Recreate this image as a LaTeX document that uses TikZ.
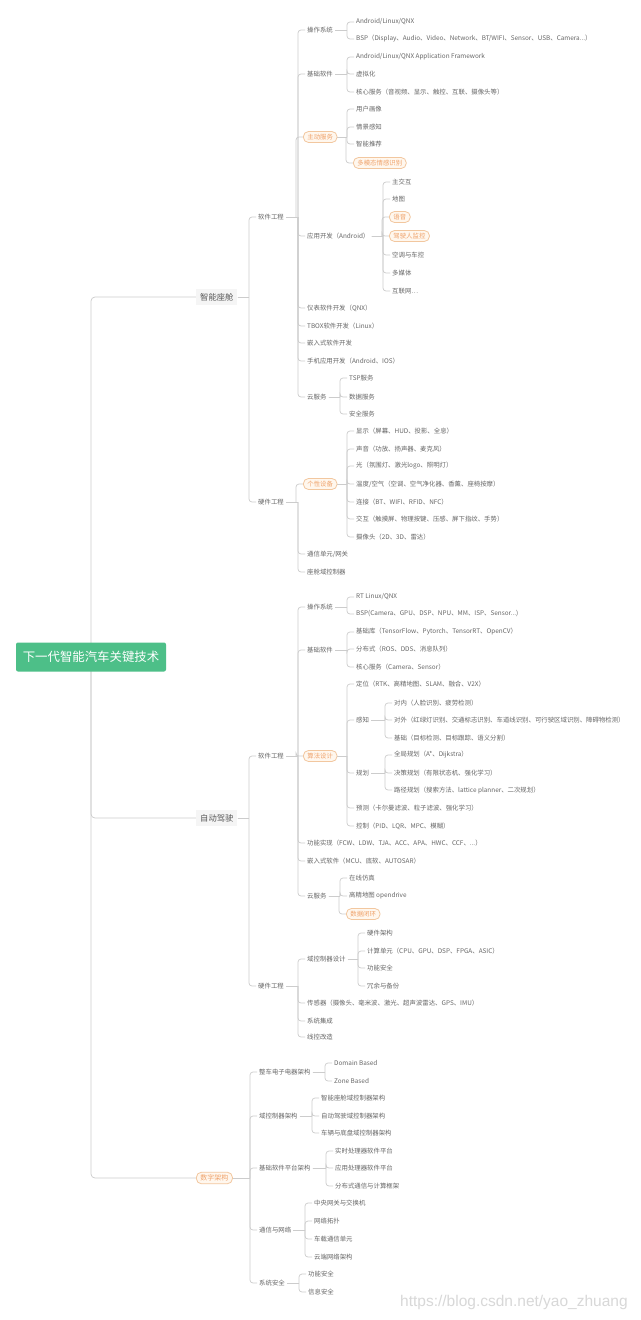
\documentclass[tikz,border=0pt]{standalone}
\usepackage{fontspec}
\setmainfont{Noto Sans CJK SC}
\newfontfamily\markfont{Liberation Sans}
\usetikzlibrary{calc,backgrounds}

\definecolor{rootgreen}{HTML}{4DBF88}
\definecolor{inkgray}{HTML}{666666}
\definecolor{linegray}{HTML}{CCCCCC}
\definecolor{pilledge}{HTML}{F2C79F}
\definecolor{pillfill}{HTML}{FFF7EE}
\definecolor{pillink}{HTML}{EFA26B}
\definecolor{markgray}{HTML}{D8D8D8}

\tikzset{
  rootbox/.style={fill=rootgreen, text=white, rounded corners=2pt,
    minimum width=150pt, minimum height=29pt, font=\fontsize{12.4}{14}\selectfont},
  topic/.style={anchor=west, fill=black!4, text=inkgray!85!black, inner sep=4pt,
    font=\fontsize{8.3}{10}\selectfont},
  leaf/.style={anchor=west, text=inkgray, inner sep=2pt, font=\fontsize{6.4}{7}\selectfont},
  pill/.style={leaf, draw=pilledge, fill=pillfill, text=pillink, rounded corners=5pt,
    inner xsep=4pt, inner ysep=2.5pt, line width=0.8pt},
  link/.style={draw=linegray, line width=0.7pt},
}

% parent -> child, through a bar 7pt left of the child
\newcommand{\mapbranch}[2]{%
  \coordinate (bar) at ($(#1.east -| #2.west)+(-7,0)$);
  \draw[link] (#1.east) -- (bar);
  \draw[link, rounded corners=3pt] (bar) |- (#2.west);}

\begin{document}
\begin{tikzpicture}[x=1pt, y=-1pt]
  \useasboundingbox (0,0) rectangle (640,1320);

    %----------------------------------------------------------
    % Root and main topics
    %----------------------------------------------------------
  \node[rootbox] (root) at (91,657) {下一代智能汽车关键技术};
  \node[topic] (cab) at (196,297) {智能座舱};
  \node[topic] (ad) at (196,818) {自动驾驶};
  \node[pill, font=\fontsize{7}{8}\selectfont] (arch) at (196,1178) {数字架构};

    %----------------------------------------------------------
    % Smart cabin
    %----------------------------------------------------------
  \node[leaf] (cabSw) at (256,217) {软件工程};
  \node[leaf] (cabHw) at (256,502) {硬件工程};

  \node[leaf] (cabOs) at (305,30) {操作系统};
  \node[leaf] (cabBase) at (305,74) {基础软件};
  \node[pill] (cabSvc) at (303,137) {主动服务};
  \node[leaf] (cabApp) at (305,236) {应用开发（Android）};
  \node[leaf] (cabIc) at (305,308) {仪表软件开发（QNX）};
  \node[leaf] (cabTbox) at (305,326) {TBOX软件开发（Linux）};
  \node[leaf] (cabEmb) at (305,343) {嵌入式软件开发};
  \node[leaf] (cabMob) at (305,361) {手机应用开发（Android、IOS）};
  \node[leaf] (cabCloud) at (305,397) {云服务};

  \node[leaf] (cabOs1) at (354,22) {Android/Linux/QNX};
  \node[leaf] (cabOs2) at (354,39) {BSP（Display、Audio、Video、Network、BT/WIFI、Sensor、USB、Camera...）};
  \node[leaf] (cabBase1) at (354,57) {Android/Linux/QNX Application Framework};
  \node[leaf] (cabBase2) at (354,74) {虚拟化};
  \node[leaf] (cabBase3) at (354,92) {核心服务（音视频、显示、触控、互联、摄像头等）};
  \node[leaf] (cabSvc1) at (354,109) {用户画像};
  \node[leaf] (cabSvc2) at (354,127) {情景感知};
  \node[leaf] (cabSvc3) at (354,144) {智能推荐};
  \node[pill] (cabSvc4) at (353,163) {多模态情感识别};
  \node[leaf] (cabApp1) at (390,182) {主交互};
  \node[leaf] (cabApp2) at (390,199) {地图};
  \node[pill] (cabApp3) at (389,217) {语音};
  \node[pill] (cabApp4) at (389,236) {驾驶人监控};
  \node[leaf] (cabApp5) at (390,255) {空调与车控};
  \node[leaf] (cabApp6) at (390,273) {多媒体};
  \node[leaf] (cabApp7) at (390,291) {互联网…};
  \node[leaf] (cabCloud1) at (347,378) {TSP服务};
  \node[leaf] (cabCloud2) at (347,397) {数据服务};
  \node[leaf] (cabCloud3) at (347,414) {安全服务};

  \node[pill] (cabDev) at (303,484) {个性设备};
  \node[leaf] (cabGw) at (305,554) {通信单元/网关};
  \node[leaf] (cabDcu) at (305,572) {座舱域控制器};
  \node[leaf] (cabDev1) at (354,431) {显示（屏幕、HUD、投影、全息）};
  \node[leaf] (cabDev2) at (354,449) {声音（功放、扬声器、麦克风）};
  \node[leaf] (cabDev3) at (354,466) {光（氛围灯、激光logo、照明灯）};
  \node[leaf] (cabDev4) at (354,484) {温度/空气（空调、空气净化器、香薰、座椅按摩）};
  \node[leaf] (cabDev5) at (354,502) {连接（BT、WIFI、RFID、NFC）};
  \node[leaf] (cabDev6) at (354,519) {交互（触摸屏、物理按键、压感、屏下指纹、手势）};
  \node[leaf] (cabDev7) at (354,537) {摄像头（2D、3D、雷达）};

    %----------------------------------------------------------
    % Autonomous driving
    %----------------------------------------------------------
  \node[leaf] (adSw) at (256,756) {软件工程};
  \node[leaf] (adHw) at (256,986) {硬件工程};

  \node[leaf] (adOs) at (305,607) {操作系统};
  \node[leaf] (adBase) at (305,650) {基础软件};
  \node[pill] (adAlgo) at (303,756) {算法设计};
  \node[leaf] (adFunc) at (305,843) {功能实现（FCW、LDW、TJA、ACC、APA、HWC、CCF、...）};
  \node[leaf] (adEmb) at (305,861) {嵌入式软件（MCU、底软、AUTOSAR）};
  \node[leaf] (adCloud) at (305,896) {云服务};

  \node[leaf] (adOs1) at (354,597) {RT Linux/QNX};
  \node[leaf] (adOs2) at (354,614) {BSP(Camera、GPU、DSP、NPU、MM、ISP、Sensor...)};
  \node[leaf] (adBase1) at (354,632) {基础库（TensorFlow、Pytorch、TensorRT、OpenCV）};
  \node[leaf] (adBase2) at (354,649) {分布式（ROS、DDS、消息队列）};
  \node[leaf] (adBase3) at (354,667) {核心服务（Camera、Sensor）};

  \node[leaf] (adLoc) at (354,684) {定位（RTK、高精地图、SLAM、融合、V2X）};
  \node[leaf] (adPer) at (354,720) {感知};
  \node[leaf] (adPlan) at (354,773) {规划};
  \node[leaf] (adPred) at (354,808) {预测（卡尔曼滤波、粒子滤波、强化学习）};
  \node[leaf] (adCtrl) at (354,826) {控制（PID、LQR、MPC、模糊）};
  \node[leaf] (adPer1) at (392,703) {对内（人脸识别、疲劳检测）};
  \node[leaf] (adPer2) at (392,720) {对外（红绿灯识别、交通标志识别、车道线识别、可行驶区域识别、障碍物检测）};
  \node[leaf] (adPer3) at (392,738) {基础（目标检测、目标跟踪、语义分割）};
  \node[leaf] (adPlan1) at (392,755) {全局规划（A*、Dijkstra）};
  \node[leaf] (adPlan2) at (392,773) {决策规划（有限状态机、强化学习）};
  \node[leaf] (adPlan3) at (392,790) {路径规划（搜索方法、lattice planner、二次规划）};

  \node[leaf] (adCloud1) at (347,878) {在线仿真};
  \node[leaf] (adCloud2) at (347,896) {高精地图 opendrive};
  \node[pill] (adCloud3) at (346,914) {数据闭环};

  \node[leaf] (adDcu) at (305,959) {域控制器设计};
  \node[leaf] (adSens) at (305,1003) {传感器（摄像头、毫米波、激光、超声波雷达、GPS、IMU）};
  \node[leaf] (adInt) at (305,1021) {系统集成};
  \node[leaf] (adWire) at (305,1037) {线控改造};
  \node[leaf] (adDcu1) at (365,933) {硬件架构};
  \node[leaf] (adDcu2) at (365,951) {计算单元（CPU、GPU、DSP、FPGA、ASIC）};
  \node[leaf] (adDcu3) at (365,968) {功能安全};
  \node[leaf] (adDcu4) at (365,986) {冗余与备份};

    %----------------------------------------------------------
    % Digital architecture
    %----------------------------------------------------------
  \node[leaf] (arEe) at (257,1072) {整车电子电器架构};
  \node[leaf] (arDom) at (257,1116) {域控制器架构};
  \node[leaf] (arSw) at (257,1168) {基础软件平台架构};
  \node[leaf] (arNet) at (257,1230) {通信与网络};
  \node[leaf] (arSec) at (257,1283) {系统安全};

  \node[leaf] (arEe1) at (332,1063) {Domain Based};
  \node[leaf] (arEe2) at (332,1081) {Zone Based};
  \node[leaf] (arDom1) at (319,1098) {智能座舱域控制器架构};
  \node[leaf] (arDom2) at (319,1116) {自动驾驶域控制器架构};
  \node[leaf] (arDom3) at (319,1133) {车辆与底盘域控制器架构};
  \node[leaf] (arSw1) at (333,1151) {实时处理器软件平台};
  \node[leaf] (arSw2) at (333,1168) {应用处理器软件平台};
  \node[leaf] (arSw3) at (333,1186) {分布式通信与计算框架};
  \node[leaf] (arNet1) at (312,1203) {中央网关与交换机};
  \node[leaf] (arNet2) at (312,1221) {网络拓扑};
  \node[leaf] (arNet3) at (312,1239) {车载通信单元};
  \node[leaf] (arNet4) at (312,1257) {云端网络架构};
  \node[leaf] (arSec1) at (306,1274) {功能安全};
  \node[leaf] (arSec2) at (306,1292) {信息安全};

  \node[anchor=west, text=markgray, inner sep=0pt, font=\markfont\fontsize{15.5}{17}\selectfont]
    (mark) at (400,1302) {https://blog.csdn.net/yao\_zhuang};

    %----------------------------------------------------------
    % Connectors
    %----------------------------------------------------------
  \begin{scope}[on background layer]
    \fill[white] (0,0) rectangle (640,1320);
    \foreach \c in {cab,ad,arch}
      \draw[link, rounded corners=4pt] (root.center) |- (\c.west);

    \foreach \c in {cabSw,cabHw} \mapbranch{cab}{\c};
    \foreach \c in {cabOs,cabBase,cabSvc,cabApp,cabIc,cabTbox,cabEmb,cabMob,cabCloud}
      \mapbranch{cabSw}{\c};
    \foreach \c in {cabOs1,cabOs2} \mapbranch{cabOs}{\c};
    \foreach \c in {cabBase1,cabBase2,cabBase3} \mapbranch{cabBase}{\c};
    \foreach \c in {cabSvc1,cabSvc2,cabSvc3,cabSvc4} \mapbranch{cabSvc}{\c};
    \foreach \c in {cabApp1,cabApp2,cabApp3,cabApp4,cabApp5,cabApp6,cabApp7}
      \mapbranch{cabApp}{\c};
    \foreach \c in {cabCloud1,cabCloud2,cabCloud3} \mapbranch{cabCloud}{\c};
    \foreach \c in {cabDev,cabGw,cabDcu} \mapbranch{cabHw}{\c};
    \foreach \c in {cabDev1,cabDev2,cabDev3,cabDev4,cabDev5,cabDev6,cabDev7}
      \mapbranch{cabDev}{\c};

    \foreach \c in {adSw,adHw} \mapbranch{ad}{\c};
    \foreach \c in {adOs,adBase,adAlgo,adFunc,adEmb,adCloud} \mapbranch{adSw}{\c};
    \foreach \c in {adOs1,adOs2} \mapbranch{adOs}{\c};
    \foreach \c in {adBase1,adBase2,adBase3} \mapbranch{adBase}{\c};
    \foreach \c in {adLoc,adPer,adPlan,adPred,adCtrl} \mapbranch{adAlgo}{\c};
    \foreach \c in {adPer1,adPer2,adPer3} \mapbranch{adPer}{\c};
    \foreach \c in {adPlan1,adPlan2,adPlan3} \mapbranch{adPlan}{\c};
    \foreach \c in {adCloud1,adCloud2,adCloud3} \mapbranch{adCloud}{\c};
    \foreach \c in {adDcu,adSens,adInt,adWire} \mapbranch{adHw}{\c};
    \foreach \c in {adDcu1,adDcu2,adDcu3,adDcu4} \mapbranch{adDcu}{\c};

    \foreach \c in {arEe,arDom,arSw,arNet,arSec} \mapbranch{arch}{\c};
    \foreach \c in {arEe1,arEe2} \mapbranch{arEe}{\c};
    \foreach \c in {arDom1,arDom2,arDom3} \mapbranch{arDom}{\c};
    \foreach \c in {arSw1,arSw2,arSw3} \mapbranch{arSw}{\c};
    \foreach \c in {arNet1,arNet2,arNet3,arNet4} \mapbranch{arNet}{\c};
    \foreach \c in {arSec1,arSec2} \mapbranch{arSec}{\c};
  \end{scope}
\end{tikzpicture}
\end{document}
